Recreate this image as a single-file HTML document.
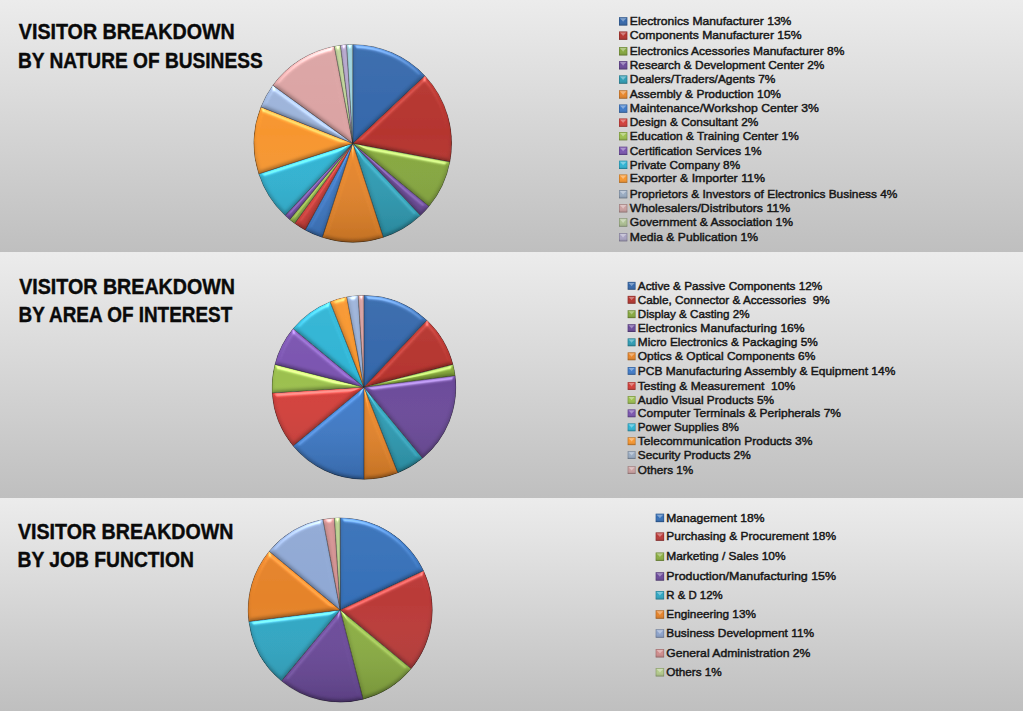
<!DOCTYPE html><html><head><meta charset="utf-8"><title>Visitor Breakdown</title>
<style>html,body{margin:0;padding:0;background:#fff;overflow:hidden}svg{display:block}text{font-family:"Liberation Sans",Arial,sans-serif}.t{font-weight:bold;fill:#0a0a0a;stroke:#0a0a0a;stroke-width:.4px}.l{fill:#161616;stroke:#161616;stroke-width:.45px}</style></head><body>
<svg width="1024" height="711" viewBox="0 0 1024 711">
<defs>
<linearGradient id="bg" x1="0" y1="0" x2="0" y2="1"><stop offset="0" stop-color="#ececec"/><stop offset="1" stop-color="#bfbfbf"/></linearGradient>
<filter id="bev" x="-5%" y="-5%" width="110%" height="110%" color-interpolation-filters="sRGB">
<feGaussianBlur in="SourceAlpha" stdDeviation="2.0" result="b"/>
<feSpecularLighting in="b" surfaceScale="2.0" specularConstant="0.9" specularExponent="30" lighting-color="#fff" result="s"><feDistantLight azimuth="270" elevation="45"/></feSpecularLighting>
<feComponentTransfer in="s" result="s1"><feFuncA type="linear" slope="1.0913" intercept="-0.0913"/></feComponentTransfer>
<feComposite in="s1" in2="SourceAlpha" operator="in" result="s2"/>
<feDiffuseLighting in="b" surfaceScale="2.0" diffuseConstant="1" lighting-color="#fff" result="d"><feDistantLight azimuth="270" elevation="45"/></feDiffuseLighting>
<feComposite in="SourceGraphic" in2="d" operator="arithmetic" k1="0.5657" k2="0.600" k3="0" k4="0" result="lit"/>
<feComposite in="s2" in2="lit" operator="arithmetic" k1="0" k2="0.35" k3="1" k4="0" result="o"/>
<feComposite in="o" in2="SourceAlpha" operator="in"/>
</filter>
<linearGradient id="mk" x1="0" y1="0" x2="0" y2="1"><stop offset="0" stop-color="#fff" stop-opacity=".1"/><stop offset=".45" stop-color="#fff" stop-opacity="0"/><stop offset="1" stop-color="#000" stop-opacity=".18"/></linearGradient>
<linearGradient id="pshade" x1="0" y1="0" x2="0" y2="1"><stop offset="0" stop-color="#fff" stop-opacity=".05"/><stop offset=".45" stop-color="#fff" stop-opacity="0"/><stop offset="1" stop-color="#000" stop-opacity=".16"/></linearGradient>
<filter id="soft" x="-5%" y="-5%" width="110%" height="110%"><feGaussianBlur stdDeviation="0.7"/></filter>
</defs>
<rect x="0" y="0" width="1023" height="252" fill="url(#bg)"/>
<rect x="0" y="252" width="1023" height="246" fill="url(#bg)"/>
<rect x="0" y="498" width="1023" height="213" fill="url(#bg)"/>
<text class="t" x="18.8" y="39.2" font-size="21.3" textLength="216.0" lengthAdjust="spacingAndGlyphs">VISITOR BREAKDOWN</text>
<text class="t" x="17.9" y="68.3" font-size="21.3" textLength="244.8" lengthAdjust="spacingAndGlyphs">BY NATURE OF BUSINESS</text>
<text class="t" x="19.2" y="293.6" font-size="21.3" textLength="215.8" lengthAdjust="spacingAndGlyphs">VISITOR BREAKDOWN</text>
<text class="t" x="18.6" y="322.3" font-size="21.3" textLength="213.6" lengthAdjust="spacingAndGlyphs">BY AREA OF INTEREST</text>
<text class="t" x="18.0" y="539.2" font-size="21.3" textLength="215.4" lengthAdjust="spacingAndGlyphs">VISITOR BREAKDOWN</text>
<text class="t" x="17.5" y="566.6" font-size="21.3" textLength="176.4" lengthAdjust="spacingAndGlyphs">BY JOB FUNCTION</text>
<g filter="url(#soft)">
<path d="M352.80,143.40 L352.80,44.40 A99.00,99.00 0 0 1 424.97,75.63 Z" fill="#3568ab" filter="url(#bev)" stroke="#000" stroke-opacity="0.4" stroke-width="0.9"/>
<path d="M352.80,143.40 L424.97,75.63 A99.00,99.00 0 0 1 450.05,161.95 Z" fill="#b5352f" filter="url(#bev)" stroke="#000" stroke-opacity="0.4" stroke-width="0.9"/>
<path d="M352.80,143.40 L450.05,161.95 A99.00,99.00 0 0 1 429.08,206.50 Z" fill="#86a83e" filter="url(#bev)" stroke="#000" stroke-opacity="0.4" stroke-width="0.9"/>
<path d="M352.80,143.40 L429.08,206.50 A99.00,99.00 0 0 1 420.57,215.57 Z" fill="#6b4a9a" filter="url(#bev)" stroke="#000" stroke-opacity="0.4" stroke-width="0.9"/>
<path d="M352.80,143.40 L420.57,215.57 A99.00,99.00 0 0 1 383.39,237.55 Z" fill="#2e9db5" filter="url(#bev)" stroke="#000" stroke-opacity="0.4" stroke-width="0.9"/>
<path d="M352.80,143.40 L383.39,237.55 A99.00,99.00 0 0 1 322.21,237.55 Z" fill="#e8862a" filter="url(#bev)" stroke="#000" stroke-opacity="0.4" stroke-width="0.9"/>
<path d="M352.80,143.40 L322.21,237.55 A99.00,99.00 0 0 1 305.11,230.15 Z" fill="#3f7bc9" filter="url(#bev)" stroke="#000" stroke-opacity="0.4" stroke-width="0.9"/>
<path d="M352.80,143.40 L305.11,230.15 A99.00,99.00 0 0 1 294.61,223.49 Z" fill="#d33f3a" filter="url(#bev)" stroke="#000" stroke-opacity="0.4" stroke-width="0.9"/>
<path d="M352.80,143.40 L294.61,223.49 A99.00,99.00 0 0 1 289.70,219.68 Z" fill="#9cc04f" filter="url(#bev)" stroke="#000" stroke-opacity="0.4" stroke-width="0.9"/>
<path d="M352.80,143.40 L289.70,219.68 A99.00,99.00 0 0 1 285.03,215.57 Z" fill="#7b55b0" filter="url(#bev)" stroke="#000" stroke-opacity="0.4" stroke-width="0.9"/>
<path d="M352.80,143.40 L285.03,215.57 A99.00,99.00 0 0 1 258.65,173.99 Z" fill="#30b4d4" filter="url(#bev)" stroke="#000" stroke-opacity="0.4" stroke-width="0.9"/>
<path d="M352.80,143.40 L258.65,173.99 A99.00,99.00 0 0 1 260.75,106.96 Z" fill="#f7962f" filter="url(#bev)" stroke="#000" stroke-opacity="0.4" stroke-width="0.9"/>
<path d="M352.80,143.40 L260.75,106.96 A99.00,99.00 0 0 1 272.71,85.21 Z" fill="#9db4da" filter="url(#bev)" stroke="#000" stroke-opacity="0.4" stroke-width="0.9"/>
<path d="M352.80,143.40 L272.71,85.21 A99.00,99.00 0 0 1 334.25,46.15 Z" fill="#dba3a3" filter="url(#bev)" stroke="#000" stroke-opacity="0.4" stroke-width="0.9"/>
<path d="M352.80,143.40 L334.25,46.15 A99.00,99.00 0 0 1 340.39,45.18 Z" fill="#c2d69c" filter="url(#bev)" stroke="#000" stroke-opacity="0.4" stroke-width="0.9"/>
<path d="M352.80,143.40 L340.39,45.18 A99.00,99.00 0 0 1 346.58,44.60 Z" fill="#b7a8cf" filter="url(#bev)" stroke="#000" stroke-opacity="0.4" stroke-width="0.9"/>
<path d="M352.80,143.40 L346.58,44.60 A99.00,99.00 0 0 1 352.80,44.40 Z" fill="#a0d5e0" filter="url(#bev)" stroke="#000" stroke-opacity="0.4" stroke-width="0.9"/>
<circle cx="352.8" cy="143.4" r="99.0" fill="url(#pshade)"/>
</g>
<rect x="619.0" y="17.2" width="8.3" height="8.3" fill="#3568ab"/>
<rect x="619.0" y="17.2" width="8.3" height="8.3" fill="url(#mk)"/>
<polygon points="620.0,18.2 626.3,18.2 623.1,21.8" fill="#fff" fill-opacity=".35"/>
<rect x="619.3" y="17.5" width="7.7" height="7.7" fill="none" stroke="#000" stroke-opacity=".25" stroke-width=".6"/>
<text class="l" x="629.8" y="25.1" font-size="11.7" textLength="161.6" lengthAdjust="spacingAndGlyphs" xml:space="preserve">Electronics Manufacturer 13%</text>
<rect x="619.0" y="31.5" width="8.3" height="8.3" fill="#b5352f"/>
<rect x="619.0" y="31.5" width="8.3" height="8.3" fill="url(#mk)"/>
<polygon points="620.0,32.5 626.3,32.5 623.1,36.1" fill="#fff" fill-opacity=".35"/>
<rect x="619.3" y="31.8" width="7.7" height="7.7" fill="none" stroke="#000" stroke-opacity=".25" stroke-width=".6"/>
<text class="l" x="629.8" y="39.4" font-size="11.7" textLength="171.9" lengthAdjust="spacingAndGlyphs" xml:space="preserve">Components Manufacturer 15%</text>
<rect x="619.0" y="47.1" width="8.3" height="8.3" fill="#86a83e"/>
<rect x="619.0" y="47.1" width="8.3" height="8.3" fill="url(#mk)"/>
<polygon points="620.0,48.1 626.3,48.1 623.1,51.7" fill="#fff" fill-opacity=".35"/>
<rect x="619.3" y="47.4" width="7.7" height="7.7" fill="none" stroke="#000" stroke-opacity=".25" stroke-width=".6"/>
<text class="l" x="629.8" y="55.0" font-size="11.7" textLength="214.5" lengthAdjust="spacingAndGlyphs" xml:space="preserve">Electronics Acessories Manufacturer 8%</text>
<rect x="619.0" y="61.1" width="8.3" height="8.3" fill="#6b4a9a"/>
<rect x="619.0" y="61.1" width="8.3" height="8.3" fill="url(#mk)"/>
<polygon points="620.0,62.1 626.3,62.1 623.1,65.7" fill="#fff" fill-opacity=".35"/>
<rect x="619.3" y="61.4" width="7.7" height="7.7" fill="none" stroke="#000" stroke-opacity=".25" stroke-width=".6"/>
<text class="l" x="629.8" y="69.0" font-size="11.7" textLength="194.5" lengthAdjust="spacingAndGlyphs" xml:space="preserve">Research &amp; Development Center 2%</text>
<rect x="619.0" y="75.4" width="8.3" height="8.3" fill="#2e9db5"/>
<rect x="619.0" y="75.4" width="8.3" height="8.3" fill="url(#mk)"/>
<polygon points="620.0,76.4 626.3,76.4 623.1,80.0" fill="#fff" fill-opacity=".35"/>
<rect x="619.3" y="75.7" width="7.7" height="7.7" fill="none" stroke="#000" stroke-opacity=".25" stroke-width=".6"/>
<text class="l" x="629.8" y="83.3" font-size="11.7" textLength="145.6" lengthAdjust="spacingAndGlyphs" xml:space="preserve">Dealers/Traders/Agents 7%</text>
<rect x="619.0" y="90.3" width="8.3" height="8.3" fill="#e8862a"/>
<rect x="619.0" y="90.3" width="8.3" height="8.3" fill="url(#mk)"/>
<polygon points="620.0,91.3 626.3,91.3 623.1,94.9" fill="#fff" fill-opacity=".35"/>
<rect x="619.3" y="90.6" width="7.7" height="7.7" fill="none" stroke="#000" stroke-opacity=".25" stroke-width=".6"/>
<text class="l" x="629.8" y="98.2" font-size="11.7" textLength="151.2" lengthAdjust="spacingAndGlyphs" xml:space="preserve">Assembly &amp; Production 10%</text>
<rect x="619.0" y="104.5" width="8.3" height="8.3" fill="#3f7bc9"/>
<rect x="619.0" y="104.5" width="8.3" height="8.3" fill="url(#mk)"/>
<polygon points="620.0,105.5 626.3,105.5 623.1,109.1" fill="#fff" fill-opacity=".35"/>
<rect x="619.3" y="104.8" width="7.7" height="7.7" fill="none" stroke="#000" stroke-opacity=".25" stroke-width=".6"/>
<text class="l" x="629.8" y="112.4" font-size="11.7" textLength="189.0" lengthAdjust="spacingAndGlyphs" xml:space="preserve">Maintenance/Workshop Center 3%</text>
<rect x="619.0" y="118.5" width="8.3" height="8.3" fill="#d33f3a"/>
<rect x="619.0" y="118.5" width="8.3" height="8.3" fill="url(#mk)"/>
<polygon points="620.0,119.5 626.3,119.5 623.1,123.1" fill="#fff" fill-opacity=".35"/>
<rect x="619.3" y="118.8" width="7.7" height="7.7" fill="none" stroke="#000" stroke-opacity=".25" stroke-width=".6"/>
<text class="l" x="629.8" y="126.4" font-size="11.7" textLength="128.5" lengthAdjust="spacingAndGlyphs" xml:space="preserve">Design &amp; Consultant 2%</text>
<rect x="619.0" y="132.0" width="8.3" height="8.3" fill="#9cc04f"/>
<rect x="619.0" y="132.0" width="8.3" height="8.3" fill="url(#mk)"/>
<polygon points="620.0,133.0 626.3,133.0 623.1,136.6" fill="#fff" fill-opacity=".35"/>
<rect x="619.3" y="132.3" width="7.7" height="7.7" fill="none" stroke="#000" stroke-opacity=".25" stroke-width=".6"/>
<text class="l" x="629.8" y="139.9" font-size="11.7" textLength="169.0" lengthAdjust="spacingAndGlyphs" xml:space="preserve">Education &amp; Training Center 1%</text>
<rect x="619.0" y="146.7" width="8.3" height="8.3" fill="#7b55b0"/>
<rect x="619.0" y="146.7" width="8.3" height="8.3" fill="url(#mk)"/>
<polygon points="620.0,147.7 626.3,147.7 623.1,151.3" fill="#fff" fill-opacity=".35"/>
<rect x="619.3" y="147.0" width="7.7" height="7.7" fill="none" stroke="#000" stroke-opacity=".25" stroke-width=".6"/>
<text class="l" x="629.8" y="154.6" font-size="11.7" textLength="131.7" lengthAdjust="spacingAndGlyphs" xml:space="preserve">Certification Services 1%</text>
<rect x="619.0" y="160.7" width="8.3" height="8.3" fill="#30b4d4"/>
<rect x="619.0" y="160.7" width="8.3" height="8.3" fill="url(#mk)"/>
<polygon points="620.0,161.7 626.3,161.7 623.1,165.3" fill="#fff" fill-opacity=".35"/>
<rect x="619.3" y="161.0" width="7.7" height="7.7" fill="none" stroke="#000" stroke-opacity=".25" stroke-width=".6"/>
<text class="l" x="629.8" y="168.6" font-size="11.7" textLength="110.3" lengthAdjust="spacingAndGlyphs" xml:space="preserve">Private Company 8%</text>
<rect x="619.0" y="174.5" width="8.3" height="8.3" fill="#f7962f"/>
<rect x="619.0" y="174.5" width="8.3" height="8.3" fill="url(#mk)"/>
<polygon points="620.0,175.5 626.3,175.5 623.1,179.1" fill="#fff" fill-opacity=".35"/>
<rect x="619.3" y="174.8" width="7.7" height="7.7" fill="none" stroke="#000" stroke-opacity=".25" stroke-width=".6"/>
<text class="l" x="629.8" y="182.4" font-size="11.7" textLength="135.2" lengthAdjust="spacingAndGlyphs" xml:space="preserve">Exporter &amp; Importer 11%</text>
<rect x="619.0" y="190.0" width="8.3" height="8.3" fill="#99abc2"/>
<rect x="619.0" y="190.0" width="8.3" height="8.3" fill="url(#mk)"/>
<polygon points="620.0,191.0 626.3,191.0 623.1,194.6" fill="#fff" fill-opacity=".35"/>
<rect x="619.3" y="190.3" width="7.7" height="7.7" fill="none" stroke="#000" stroke-opacity=".25" stroke-width=".6"/>
<text class="l" x="629.8" y="197.9" font-size="11.7" textLength="267.6" lengthAdjust="spacingAndGlyphs" xml:space="preserve">Proprietors &amp; Investors of Electronics Business 4%</text>
<rect x="619.0" y="204.1" width="8.3" height="8.3" fill="#caa0a0"/>
<rect x="619.0" y="204.1" width="8.3" height="8.3" fill="url(#mk)"/>
<polygon points="620.0,205.1 626.3,205.1 623.1,208.7" fill="#fff" fill-opacity=".35"/>
<rect x="619.3" y="204.4" width="7.7" height="7.7" fill="none" stroke="#000" stroke-opacity=".25" stroke-width=".6"/>
<text class="l" x="629.8" y="212.0" font-size="11.7" textLength="160.3" lengthAdjust="spacingAndGlyphs" xml:space="preserve">Wholesalers/Distributors 11%</text>
<rect x="619.0" y="218.3" width="8.3" height="8.3" fill="#adc093"/>
<rect x="619.0" y="218.3" width="8.3" height="8.3" fill="url(#mk)"/>
<polygon points="620.0,219.3 626.3,219.3 623.1,222.9" fill="#fff" fill-opacity=".35"/>
<rect x="619.3" y="218.6" width="7.7" height="7.7" fill="none" stroke="#000" stroke-opacity=".25" stroke-width=".6"/>
<text class="l" x="629.8" y="226.2" font-size="11.7" textLength="163.2" lengthAdjust="spacingAndGlyphs" xml:space="preserve">Government &amp; Association 1%</text>
<rect x="619.0" y="233.0" width="8.3" height="8.3" fill="#a9a3c2"/>
<rect x="619.0" y="233.0" width="8.3" height="8.3" fill="url(#mk)"/>
<polygon points="620.0,234.0 626.3,234.0 623.1,237.6" fill="#fff" fill-opacity=".35"/>
<rect x="619.3" y="233.3" width="7.7" height="7.7" fill="none" stroke="#000" stroke-opacity=".25" stroke-width=".6"/>
<text class="l" x="629.8" y="240.9" font-size="11.7" textLength="128.4" lengthAdjust="spacingAndGlyphs" xml:space="preserve">Media &amp; Publication 1%</text>
<g filter="url(#soft)">
<path d="M363.95,387.30 L363.95,295.20 A92.10,92.10 0 0 1 427.00,320.16 Z" fill="#3568ab" filter="url(#bev)" stroke="#000" stroke-opacity="0.4" stroke-width="0.9"/>
<path d="M363.95,387.30 L427.00,320.16 A92.10,92.10 0 0 1 453.16,364.40 Z" fill="#b5352f" filter="url(#bev)" stroke="#000" stroke-opacity="0.4" stroke-width="0.9"/>
<path d="M363.95,387.30 L453.16,364.40 A92.10,92.10 0 0 1 455.32,375.76 Z" fill="#86a83e" filter="url(#bev)" stroke="#000" stroke-opacity="0.4" stroke-width="0.9"/>
<path d="M363.95,387.30 L455.32,375.76 A92.10,92.10 0 0 1 422.66,458.26 Z" fill="#6b4a9a" filter="url(#bev)" stroke="#000" stroke-opacity="0.4" stroke-width="0.9"/>
<path d="M363.95,387.30 L422.66,458.26 A92.10,92.10 0 0 1 397.85,472.93 Z" fill="#2e9db5" filter="url(#bev)" stroke="#000" stroke-opacity="0.4" stroke-width="0.9"/>
<path d="M363.95,387.30 L397.85,472.93 A92.10,92.10 0 0 1 363.95,479.40 Z" fill="#e8862a" filter="url(#bev)" stroke="#000" stroke-opacity="0.4" stroke-width="0.9"/>
<path d="M363.95,387.30 L363.95,479.40 A92.10,92.10 0 0 1 292.99,446.01 Z" fill="#3f7bc9" filter="url(#bev)" stroke="#000" stroke-opacity="0.4" stroke-width="0.9"/>
<path d="M363.95,387.30 L292.99,446.01 A92.10,92.10 0 0 1 272.03,393.08 Z" fill="#d33f3a" filter="url(#bev)" stroke="#000" stroke-opacity="0.4" stroke-width="0.9"/>
<path d="M363.95,387.30 L272.03,393.08 A92.10,92.10 0 0 1 274.74,364.40 Z" fill="#9cc04f" filter="url(#bev)" stroke="#000" stroke-opacity="0.4" stroke-width="0.9"/>
<path d="M363.95,387.30 L274.74,364.40 A92.10,92.10 0 0 1 292.99,328.59 Z" fill="#7b55b0" filter="url(#bev)" stroke="#000" stroke-opacity="0.4" stroke-width="0.9"/>
<path d="M363.95,387.30 L292.99,328.59 A92.10,92.10 0 0 1 330.05,301.67 Z" fill="#30b4d4" filter="url(#bev)" stroke="#000" stroke-opacity="0.4" stroke-width="0.9"/>
<path d="M363.95,387.30 L330.05,301.67 A92.10,92.10 0 0 1 346.69,296.83 Z" fill="#f7962f" filter="url(#bev)" stroke="#000" stroke-opacity="0.4" stroke-width="0.9"/>
<path d="M363.95,387.30 L346.69,296.83 A92.10,92.10 0 0 1 358.17,295.38 Z" fill="#9db4da" filter="url(#bev)" stroke="#000" stroke-opacity="0.4" stroke-width="0.9"/>
<path d="M363.95,387.30 L358.17,295.38 A92.10,92.10 0 0 1 363.95,295.20 Z" fill="#dba3a3" filter="url(#bev)" stroke="#000" stroke-opacity="0.4" stroke-width="0.9"/>
<circle cx="363.95" cy="387.3" r="92.1" fill="url(#pshade)"/>
</g>
<rect x="627.7" y="281.9" width="7.8" height="7.8" fill="#3568ab"/>
<rect x="627.7" y="281.9" width="7.8" height="7.8" fill="url(#mk)"/>
<polygon points="628.7,282.9 634.5,282.9 631.6,286.2" fill="#fff" fill-opacity=".35"/>
<rect x="628.0" y="282.2" width="7.2" height="7.2" fill="none" stroke="#000" stroke-opacity=".25" stroke-width=".6"/>
<text class="l" x="637.8" y="289.8" font-size="11.7" textLength="184.4" lengthAdjust="spacingAndGlyphs" xml:space="preserve">Active &amp; Passive Components 12%</text>
<rect x="627.7" y="295.9" width="7.8" height="7.8" fill="#b5352f"/>
<rect x="627.7" y="295.9" width="7.8" height="7.8" fill="url(#mk)"/>
<polygon points="628.7,296.9 634.5,296.9 631.6,300.2" fill="#fff" fill-opacity=".35"/>
<rect x="628.0" y="296.2" width="7.2" height="7.2" fill="none" stroke="#000" stroke-opacity=".25" stroke-width=".6"/>
<text class="l" x="637.8" y="303.8" font-size="11.7" textLength="191.9" lengthAdjust="spacingAndGlyphs" xml:space="preserve">Cable, Connector &amp; Accessories  9%</text>
<rect x="627.7" y="310.3" width="7.8" height="7.8" fill="#86a83e"/>
<rect x="627.7" y="310.3" width="7.8" height="7.8" fill="url(#mk)"/>
<polygon points="628.7,311.3 634.5,311.3 631.6,314.6" fill="#fff" fill-opacity=".35"/>
<rect x="628.0" y="310.6" width="7.2" height="7.2" fill="none" stroke="#000" stroke-opacity=".25" stroke-width=".6"/>
<text class="l" x="637.8" y="318.2" font-size="11.7" textLength="111.7" lengthAdjust="spacingAndGlyphs" xml:space="preserve">Display &amp; Casting 2%</text>
<rect x="627.7" y="324.2" width="7.8" height="7.8" fill="#6b4a9a"/>
<rect x="627.7" y="324.2" width="7.8" height="7.8" fill="url(#mk)"/>
<polygon points="628.7,325.2 634.5,325.2 631.6,328.5" fill="#fff" fill-opacity=".35"/>
<rect x="628.0" y="324.5" width="7.2" height="7.2" fill="none" stroke="#000" stroke-opacity=".25" stroke-width=".6"/>
<text class="l" x="637.8" y="332.1" font-size="11.7" textLength="166.8" lengthAdjust="spacingAndGlyphs" xml:space="preserve">Electronics Manufacturing 16%</text>
<rect x="627.7" y="338.4" width="7.8" height="7.8" fill="#2e9db5"/>
<rect x="627.7" y="338.4" width="7.8" height="7.8" fill="url(#mk)"/>
<polygon points="628.7,339.4 634.5,339.4 631.6,342.7" fill="#fff" fill-opacity=".35"/>
<rect x="628.0" y="338.7" width="7.2" height="7.2" fill="none" stroke="#000" stroke-opacity=".25" stroke-width=".6"/>
<text class="l" x="637.8" y="346.3" font-size="11.7" textLength="180.0" lengthAdjust="spacingAndGlyphs" xml:space="preserve">Micro Electronics &amp; Packaging 5%</text>
<rect x="627.7" y="352.4" width="7.8" height="7.8" fill="#e8862a"/>
<rect x="627.7" y="352.4" width="7.8" height="7.8" fill="url(#mk)"/>
<polygon points="628.7,353.4 634.5,353.4 631.6,356.7" fill="#fff" fill-opacity=".35"/>
<rect x="628.0" y="352.7" width="7.2" height="7.2" fill="none" stroke="#000" stroke-opacity=".25" stroke-width=".6"/>
<text class="l" x="637.8" y="360.3" font-size="11.7" textLength="177.6" lengthAdjust="spacingAndGlyphs" xml:space="preserve">Optics &amp; Optical Components 6%</text>
<rect x="627.7" y="367.0" width="7.8" height="7.8" fill="#3f7bc9"/>
<rect x="627.7" y="367.0" width="7.8" height="7.8" fill="url(#mk)"/>
<polygon points="628.7,368.0 634.5,368.0 631.6,371.3" fill="#fff" fill-opacity=".35"/>
<rect x="628.0" y="367.3" width="7.2" height="7.2" fill="none" stroke="#000" stroke-opacity=".25" stroke-width=".6"/>
<text class="l" x="637.8" y="374.9" font-size="11.7" textLength="257.5" lengthAdjust="spacingAndGlyphs" xml:space="preserve">PCB Manufacturing Assembly &amp; Equipment 14%</text>
<rect x="627.7" y="382.1" width="7.8" height="7.8" fill="#d33f3a"/>
<rect x="627.7" y="382.1" width="7.8" height="7.8" fill="url(#mk)"/>
<polygon points="628.7,383.1 634.5,383.1 631.6,386.4" fill="#fff" fill-opacity=".35"/>
<rect x="628.0" y="382.4" width="7.2" height="7.2" fill="none" stroke="#000" stroke-opacity=".25" stroke-width=".6"/>
<text class="l" x="637.8" y="390.0" font-size="11.7" textLength="157.3" lengthAdjust="spacingAndGlyphs" xml:space="preserve">Testing &amp; Measurement  10%</text>
<rect x="627.7" y="396.0" width="7.8" height="7.8" fill="#9cc04f"/>
<rect x="627.7" y="396.0" width="7.8" height="7.8" fill="url(#mk)"/>
<polygon points="628.7,397.0 634.5,397.0 631.6,400.3" fill="#fff" fill-opacity=".35"/>
<rect x="628.0" y="396.3" width="7.2" height="7.2" fill="none" stroke="#000" stroke-opacity=".25" stroke-width=".6"/>
<text class="l" x="637.8" y="403.9" font-size="11.7" textLength="136.3" lengthAdjust="spacingAndGlyphs" xml:space="preserve">Audio Visual Products 5%</text>
<rect x="627.7" y="409.4" width="7.8" height="7.8" fill="#7b55b0"/>
<rect x="627.7" y="409.4" width="7.8" height="7.8" fill="url(#mk)"/>
<polygon points="628.7,410.4 634.5,410.4 631.6,413.7" fill="#fff" fill-opacity=".35"/>
<rect x="628.0" y="409.7" width="7.2" height="7.2" fill="none" stroke="#000" stroke-opacity=".25" stroke-width=".6"/>
<text class="l" x="637.8" y="417.3" font-size="11.7" textLength="203.2" lengthAdjust="spacingAndGlyphs" xml:space="preserve">Computer Terminals &amp; Peripherals 7%</text>
<rect x="627.7" y="423.4" width="7.8" height="7.8" fill="#30b4d4"/>
<rect x="627.7" y="423.4" width="7.8" height="7.8" fill="url(#mk)"/>
<polygon points="628.7,424.4 634.5,424.4 631.6,427.7" fill="#fff" fill-opacity=".35"/>
<rect x="628.0" y="423.7" width="7.2" height="7.2" fill="none" stroke="#000" stroke-opacity=".25" stroke-width=".6"/>
<text class="l" x="637.8" y="431.3" font-size="11.7" textLength="101.1" lengthAdjust="spacingAndGlyphs" xml:space="preserve">Power Supplies 8%</text>
<rect x="627.7" y="437.3" width="7.8" height="7.8" fill="#f7962f"/>
<rect x="627.7" y="437.3" width="7.8" height="7.8" fill="url(#mk)"/>
<polygon points="628.7,438.3 634.5,438.3 631.6,441.6" fill="#fff" fill-opacity=".35"/>
<rect x="628.0" y="437.6" width="7.2" height="7.2" fill="none" stroke="#000" stroke-opacity=".25" stroke-width=".6"/>
<text class="l" x="637.8" y="445.2" font-size="11.7" textLength="174.7" lengthAdjust="spacingAndGlyphs" xml:space="preserve">Telecommunication Products 3%</text>
<rect x="627.7" y="451.2" width="7.8" height="7.8" fill="#99abc2"/>
<rect x="627.7" y="451.2" width="7.8" height="7.8" fill="url(#mk)"/>
<polygon points="628.7,452.2 634.5,452.2 631.6,455.5" fill="#fff" fill-opacity=".35"/>
<rect x="628.0" y="451.5" width="7.2" height="7.2" fill="none" stroke="#000" stroke-opacity=".25" stroke-width=".6"/>
<text class="l" x="637.8" y="459.1" font-size="11.7" textLength="112.9" lengthAdjust="spacingAndGlyphs" xml:space="preserve">Security Products 2%</text>
<rect x="627.7" y="466.2" width="7.8" height="7.8" fill="#caa0a0"/>
<rect x="627.7" y="466.2" width="7.8" height="7.8" fill="url(#mk)"/>
<polygon points="628.7,467.2 634.5,467.2 631.6,470.5" fill="#fff" fill-opacity=".35"/>
<rect x="628.0" y="466.5" width="7.2" height="7.2" fill="none" stroke="#000" stroke-opacity=".25" stroke-width=".6"/>
<text class="l" x="637.8" y="474.1" font-size="11.7" textLength="55.5" lengthAdjust="spacingAndGlyphs" xml:space="preserve">Others 1%</text>
<g filter="url(#soft)">
<path d="M340.20,610.00 L340.20,517.70 A92.30,92.30 0 0 1 423.72,570.70 Z" fill="#3670b8" filter="url(#bev)" stroke="#000" stroke-opacity="0.4" stroke-width="0.9"/>
<path d="M340.20,610.00 L423.72,570.70 A92.30,92.30 0 0 1 411.32,668.83 Z" fill="#ba3a38" filter="url(#bev)" stroke="#000" stroke-opacity="0.4" stroke-width="0.9"/>
<path d="M340.20,610.00 L411.32,668.83 A92.30,92.30 0 0 1 363.15,699.40 Z" fill="#8bae42" filter="url(#bev)" stroke="#000" stroke-opacity="0.4" stroke-width="0.9"/>
<path d="M340.20,610.00 L363.15,699.40 A92.30,92.30 0 0 1 281.37,681.12 Z" fill="#6b4a9a" filter="url(#bev)" stroke="#000" stroke-opacity="0.4" stroke-width="0.9"/>
<path d="M340.20,610.00 L281.37,681.12 A92.30,92.30 0 0 1 248.63,621.57 Z" fill="#30a7c4" filter="url(#bev)" stroke="#000" stroke-opacity="0.4" stroke-width="0.9"/>
<path d="M340.20,610.00 L248.63,621.57 A92.30,92.30 0 0 1 269.08,551.17 Z" fill="#e5832a" filter="url(#bev)" stroke="#000" stroke-opacity="0.4" stroke-width="0.9"/>
<path d="M340.20,610.00 L269.08,551.17 A92.30,92.30 0 0 1 322.90,519.33 Z" fill="#8fa8d4" filter="url(#bev)" stroke="#000" stroke-opacity="0.4" stroke-width="0.9"/>
<path d="M340.20,610.00 L322.90,519.33 A92.30,92.30 0 0 1 334.40,517.88 Z" fill="#d69494" filter="url(#bev)" stroke="#000" stroke-opacity="0.4" stroke-width="0.9"/>
<path d="M340.20,610.00 L334.40,517.88 A92.30,92.30 0 0 1 340.20,517.70 Z" fill="#bcd391" filter="url(#bev)" stroke="#000" stroke-opacity="0.4" stroke-width="0.9"/>
<circle cx="340.2" cy="610.0" r="92.3" fill="url(#pshade)"/>
</g>
<rect x="655.7" y="513.7" width="8.4" height="8.4" fill="#3670b8"/>
<rect x="655.7" y="513.7" width="8.4" height="8.4" fill="url(#mk)"/>
<polygon points="656.7,514.7 663.1,514.7 659.9,518.3" fill="#fff" fill-opacity=".35"/>
<rect x="656.0" y="514.0" width="7.8" height="7.8" fill="none" stroke="#000" stroke-opacity=".25" stroke-width=".6"/>
<text class="l" x="666.3" y="521.6" font-size="11.7" textLength="98.1" lengthAdjust="spacingAndGlyphs" xml:space="preserve">Management 18%</text>
<rect x="655.7" y="532.4" width="8.4" height="8.4" fill="#ba3a38"/>
<rect x="655.7" y="532.4" width="8.4" height="8.4" fill="url(#mk)"/>
<polygon points="656.7,533.4 663.1,533.4 659.9,537.0" fill="#fff" fill-opacity=".35"/>
<rect x="656.0" y="532.7" width="7.8" height="7.8" fill="none" stroke="#000" stroke-opacity=".25" stroke-width=".6"/>
<text class="l" x="666.3" y="540.3" font-size="11.7" textLength="169.8" lengthAdjust="spacingAndGlyphs" xml:space="preserve">Purchasing &amp; Procurement 18%</text>
<rect x="655.7" y="552.5" width="8.4" height="8.4" fill="#8bae42"/>
<rect x="655.7" y="552.5" width="8.4" height="8.4" fill="url(#mk)"/>
<polygon points="656.7,553.5 663.1,553.5 659.9,557.1" fill="#fff" fill-opacity=".35"/>
<rect x="656.0" y="552.8" width="7.8" height="7.8" fill="none" stroke="#000" stroke-opacity=".25" stroke-width=".6"/>
<text class="l" x="666.3" y="560.4" font-size="11.7" textLength="119.3" lengthAdjust="spacingAndGlyphs" xml:space="preserve">Marketing / Sales 10%</text>
<rect x="655.7" y="572.2" width="8.4" height="8.4" fill="#6b4a9a"/>
<rect x="655.7" y="572.2" width="8.4" height="8.4" fill="url(#mk)"/>
<polygon points="656.7,573.2 663.1,573.2 659.9,576.8" fill="#fff" fill-opacity=".35"/>
<rect x="656.0" y="572.5" width="7.8" height="7.8" fill="none" stroke="#000" stroke-opacity=".25" stroke-width=".6"/>
<text class="l" x="666.3" y="580.1" font-size="11.7" textLength="169.7" lengthAdjust="spacingAndGlyphs" xml:space="preserve">Production/Manufacturing 15%</text>
<rect x="655.7" y="591.0" width="8.4" height="8.4" fill="#30a7c4"/>
<rect x="655.7" y="591.0" width="8.4" height="8.4" fill="url(#mk)"/>
<polygon points="656.7,592.0 663.1,592.0 659.9,595.6" fill="#fff" fill-opacity=".35"/>
<rect x="656.0" y="591.3" width="7.8" height="7.8" fill="none" stroke="#000" stroke-opacity=".25" stroke-width=".6"/>
<text class="l" x="666.3" y="598.9" font-size="11.7" textLength="56.3" lengthAdjust="spacingAndGlyphs" xml:space="preserve">R &amp; D 12%</text>
<rect x="655.7" y="610.3" width="8.4" height="8.4" fill="#e5832a"/>
<rect x="655.7" y="610.3" width="8.4" height="8.4" fill="url(#mk)"/>
<polygon points="656.7,611.3 663.1,611.3 659.9,614.9" fill="#fff" fill-opacity=".35"/>
<rect x="656.0" y="610.6" width="7.8" height="7.8" fill="none" stroke="#000" stroke-opacity=".25" stroke-width=".6"/>
<text class="l" x="666.3" y="618.2" font-size="11.7" textLength="89.6" lengthAdjust="spacingAndGlyphs" xml:space="preserve">Engineering 13%</text>
<rect x="655.7" y="629.3" width="8.4" height="8.4" fill="#8da3cb"/>
<rect x="655.7" y="629.3" width="8.4" height="8.4" fill="url(#mk)"/>
<polygon points="656.7,630.3 663.1,630.3 659.9,633.9" fill="#fff" fill-opacity=".35"/>
<rect x="656.0" y="629.6" width="7.8" height="7.8" fill="none" stroke="#000" stroke-opacity=".25" stroke-width=".6"/>
<text class="l" x="666.3" y="637.2" font-size="11.7" textLength="147.8" lengthAdjust="spacingAndGlyphs" xml:space="preserve">Business Development 11%</text>
<rect x="655.7" y="649.0" width="8.4" height="8.4" fill="#cf8c8c"/>
<rect x="655.7" y="649.0" width="8.4" height="8.4" fill="url(#mk)"/>
<polygon points="656.7,650.0 663.1,650.0 659.9,653.6" fill="#fff" fill-opacity=".35"/>
<rect x="656.0" y="649.3" width="7.8" height="7.8" fill="none" stroke="#000" stroke-opacity=".25" stroke-width=".6"/>
<text class="l" x="666.3" y="656.9" font-size="11.7" textLength="144.1" lengthAdjust="spacingAndGlyphs" xml:space="preserve">General Administration 2%</text>
<rect x="655.7" y="668.0" width="8.4" height="8.4" fill="#b2c98a"/>
<rect x="655.7" y="668.0" width="8.4" height="8.4" fill="url(#mk)"/>
<polygon points="656.7,669.0 663.1,669.0 659.9,672.6" fill="#fff" fill-opacity=".35"/>
<rect x="656.0" y="668.3" width="7.8" height="7.8" fill="none" stroke="#000" stroke-opacity=".25" stroke-width=".6"/>
<text class="l" x="666.3" y="675.9" font-size="11.7" textLength="55.5" lengthAdjust="spacingAndGlyphs" xml:space="preserve">Others 1%</text>
</svg></body></html>
